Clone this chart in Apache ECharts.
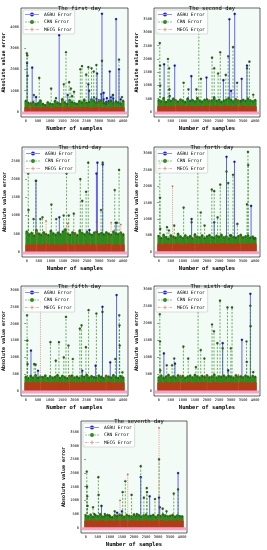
<!DOCTYPE html>
<html>
<head>
<meta charset="utf-8">
<script src="https://cdn.jsdelivr.net/npm/echarts@6/dist/echarts.min.js"></script>
<style>html,body{margin:0;padding:0;background:#fff}#c{width:267px;height:550px}</style>
</head>
<body>
<div id="c"></div>
<script>
// ---------------- data ----------------
const titles = ['The first day','The second day','The third day','The forth day','The fifth day','The sixth day','The seventh day'];
const seriesNames = ['AGRU Error','CRN Error','MECG Error'];
const xTicks = [0,500,1000,1500,2000,2500,3000,3500,4000];
const yTicks1 = [0,1000,2000,3000,4000];
const yTicks2 = [0,500,1000,1500,2000,2500,3000,3500];
const yTicks3 = [0,500,1000,1500,2000,2500];
const yTicks4 = [0,500,1000,1500,2000,2500,3000];
const yTicks5 = [0,500,1000,1500,2000,2500,3000];
const yTicks6 = [0,500,1000,1500,2000,2500,3000];
const yTicks7 = [0,500,1000,1500,2000,2500,3000,3500];

// sample positions of the dense low-level band
const baseX = [0,100,200,300,400,500,600,700,800,900,1000,1100,1200,1300,1400,1500,1600,1700,1800,1900,2000,2100,2200,2300,2400,2500,2600,2700,2800,2900,3000,3100,3200,3300,3400,3500,3600,3700,3800,3900,4000];

// Day 1
const agru1 = [[50,2300],[260,2080],[420,700],[560,450],[1370,3600],[1720,800],[2570,1300],[2600,1000],[2930,1800],[3130,4600],[3200,900],[3330,650],[3450,1900],[3580,800],[3710,4350],[3830,2000],[3900,600]];
const crn1 = [[40,2750],[60,2650],[70,1700],[330,800],[550,1600],[1040,1100],[1240,650],[1560,1300],[1650,2800],[1780,1400],[1850,1100],[1900,750],[1980,950],[2240,2000],[2310,2150],[2480,1750],[2570,2100],[2700,2050],[2790,1900],[2900,2200],[3130,2400],[3580,800],[3830,2450],[3950,700]];
const mecg1 = [[200,450],[1500,500],[3000,550]];
const agruBase1 = [400,350,300,420,380,330,300,360,310,280,340,300,320,360,300,420,350,380,400,330,360,310,380,420,460,350,400,520,700,620,560,850,600,480,520,700,640,500,420,380,350];
const crnBase1 = [520,430,390,470,350,410,540,380,330,460,400,370,520,440,390,610,450,380,560,470,420,390,510,450,580,430,470,600,520,440,480,550,430,380,460,520,410,490,450,400,520];
const mecgBase1 = [230,210,190,240,200,220,180,230,210,250,200,190,220,240,210,230,200,250,220,190,230,210,240,200,220,250,210,190,230,220,240,200,210,230,190,220,240,210,200,230,220];

// Day 2
const agru2 = [[220,1800],[450,600],[660,1750],[1200,500],[1350,1350],[1980,1300],[2300,550],[2680,1200],[2930,3500],[3000,800],[3150,3700],[3440,1250],[3660,1750]];
const crn2 = [[40,2600],[50,1750],[60,1000],[380,2000],[430,1650],[440,850],[1030,1100],[1230,850],[1560,850],[1660,3050],[1750,1250],[2210,2050],[2300,1650],[2460,1450],[2550,2250],[2780,1400],[2880,2100],[3080,2450],[3250,1100],[3660,1650],[3760,1900],[3920,650]];
const mecg2 = [[700,420],[2100,450],[3300,430]];
const agruBase2 = [380,320,300,350,420,310,290,400,330,300,350,320,300,360,310,330,300,350,320,380,310,300,340,360,300,330,350,300,420,380,400,350,330,300,420,360,330,300,350,310,300];
const crnBase2 = [450,400,520,380,460,420,500,440,390,470,430,380,480,420,450,400,520,430,390,460,480,410,440,500,420,460,380,430,470,520,450,400,480,430,390,460,420,500,440,400,450];
const mecgBase2 = [220,200,240,210,190,230,220,200,250,210,230,200,220,240,210,190,230,220,200,240,210,230,200,220,250,210,200,230,220,240,200,210,230,190,220,240,210,200,230,220,210];

// Day 3
const agru3 = [[380,1950],[1350,950],[2600,600],[2890,2150],[2930,2450],[3150,2400],[3700,800]];
const crn3 = [[60,2150],[70,1150],[280,900],[380,1950],[560,900],[650,950],[1020,1300],[1220,900],[1530,1000],[1650,2150],[1740,1000],[1950,1050],[2220,2000],[2300,1400],[2460,1650],[2550,2450],[3080,1150],[3150,2450],[3650,1700],[3740,800],[3830,2250]];
const mecg3 = [[400,550],[800,850],[1700,780],[2000,520],[2900,820],[3500,800],[3900,750]];
const agruBase3 = [350,300,420,330,380,300,350,320,400,310,360,300,330,380,300,350,320,400,330,360,300,340,380,320,300,360,330,400,350,300,380,330,360,320,300,350,400,330,360,300,340];
const crnBase3 = [560,480,520,450,600,500,470,540,490,460,580,510,470,530,480,560,620,500,470,540,510,460,590,520,480,550,500,470,530,560,490,520,480,540,500,470,560,510,490,530,480];
const mecgBase3 = [200,180,210,190,220,200,180,210,230,190,200,220,180,210,200,190,220,200,210,180,200,220,190,210,200,230,190,210,200,180,220,200,190,210,220,200,180,210,200,190,210];

// Day 4
const agru4 = [[600,400],[1360,1000],[2300,900],[2810,2900],[2960,500],[3140,2750],[3830,1400]];
const crn4 = [[40,2700],[50,1650],[60,700],[340,750],[420,650],[640,800],[1030,1350],[1360,900],[1620,2700],[1740,1200],[1900,800],[2200,1900],[2300,1850],[2440,1050],[2550,2050],[2810,2450],[2880,2100],[3080,2350],[3260,850],[3660,1450],[3700,3050],[3710,2650],[3960,400]];
const mecg4 = [[570,2000],[1500,450],[3400,420]];
const agruBase4 = [320,280,350,300,400,330,300,350,290,320,380,300,330,350,300,280,340,310,360,300,330,350,300,320,380,300,340,310,300,350,330,300,360,320,300,340,310,350,300,320,300];
const crnBase4 = [480,420,520,450,390,500,460,430,550,470,420,500,440,480,410,530,460,440,500,420,470,510,450,430,490,460,520,440,470,410,500,450,430,480,520,440,470,500,430,460,420];
const mecgBase4 = [250,230,240,260,220,250,240,230,260,240,220,250,230,260,240,250,220,240,260,230,250,240,220,260,240,230,250,260,230,240,250,220,240,260,230,250,240,230,260,240,250];

// Day 5
const agru5 = [[210,1200],[500,600],[2320,600],[2870,750],[3150,2500],[3470,850],[3730,2850]];
const crn5 = [[50,2250],[60,1500],[70,800],[340,800],[400,780],[1010,1450],[1230,900],[1360,1450],[1560,1000],[1650,2200],[1750,1350],[1930,950],[2220,1850],[2290,1950],[2470,1300],[2580,2400],[2900,2300],[3150,2350],[3680,950],[3840,2250],[3850,1950],[3860,1350],[3970,550]];
const mecg5 = [[600,2650],[1800,420],[3300,450]];
const agruBase5 = [300,280,320,350,300,330,290,310,350,300,320,280,340,300,310,330,290,350,300,320,310,280,330,350,300,320,290,310,340,300,330,310,290,350,320,300,330,310,300,290,320];
const crnBase5 = [420,380,450,400,470,390,430,410,460,380,440,400,420,470,390,450,410,380,440,460,400,430,390,450,420,480,400,440,410,390,460,420,380,450,430,400,470,410,390,440,400];
const mecgBase5 = [250,260,240,270,250,260,240,250,270,250,240,260,250,270,240,260,250,240,260,270,250,240,260,250,270,240,260,250,240,270,250,260,240,250,270,260,240,250,260,240,250];

// Day 6
const agru6 = [[210,1100],[670,800],[1200,400],[2650,1400],[2880,600],[3450,1500],[3800,2850]];
const crn6 = [[40,2250],[50,1450],[60,600],[330,750],[550,750],[640,950],[1020,1300],[1220,950],[1540,700],[1630,2450],[1740,1200],[1890,950],[2210,1950],[2290,1750],[2430,1400],[2540,2650],[2650,1250],[2850,2450],[2990,1250],[3040,2450],[3640,1450],[3650,850],[3800,2500],[3810,1900],[3920,550]];
const mecg6 = [[900,450],[2000,430],[3300,460]];
const agruBase6 = [300,330,280,310,350,300,290,320,300,340,310,280,330,300,320,350,300,290,330,310,300,340,320,290,310,350,300,330,310,290,320,300,340,310,300,330,290,320,310,300,320];
const crnBase6 = [400,450,380,420,470,400,430,390,460,410,440,380,420,450,400,470,430,390,440,410,460,400,420,480,390,430,410,450,400,440,420,390,460,410,430,400,450,420,390,440,410];
const mecgBase6 = [240,250,230,260,240,250,230,240,260,250,230,240,250,260,230,240,250,230,260,240,250,230,240,260,250,240,230,250,240,260,230,250,240,230,260,250,240,230,250,240,250];

// Day 7
const agru7 = [[650,800],[1300,550],[1500,600],[2280,1850],[2650,1150],[3040,1100],[3070,750],[3830,2000]];
const crn7 = [[40,2050],[50,1500],[60,1150],[70,800],[300,750],[350,500],[520,1850],[530,1200],[790,500],[980,450],[1200,600],[1530,1300],[1640,1700],[1900,1200],[2120,500],[2280,2250],[2410,1100],[2530,1450],[2540,1300],[2870,1050],[3040,2500],[3190,700],[3350,600],[3650,1250],[3830,1400]];
const mecg7 = [[1420,1000],[1740,1950],[3040,3650]];
const agruBase7 = [320,300,350,330,380,300,340,310,360,330,300,350,320,380,340,310,360,330,300,350,320,340,380,310,330,360,300,340,320,350,310,380,330,300,340,360,320,300,350,330,310];
const crnBase7 = [450,420,480,400,460,430,500,410,440,470,420,390,460,430,480,450,400,470,440,420,490,430,460,410,450,480,420,440,470,400,460,430,490,450,420,440,470,410,450,430,420];
const mecgBase7 = [260,240,280,250,270,240,260,280,250,240,270,260,250,280,240,260,270,250,240,280,260,250,270,240,260,280,250,260,240,270,250,280,260,240,250,270,260,240,280,250,260];

const yLimits = [[-230,4870],[-190,3925],[-140,2880],[-160,3200],[-150,3120],[-150,3080],[-190,3900]];
const yTickSets = [yTicks1,yTicks2,yTicks3,yTicks4,yTicks5,yTicks6,yTicks7];
const agruSets = [agru1,agru2,agru3,agru4,agru5,agru6,agru7];
const crnSets = [crn1,crn2,crn3,crn4,crn5,crn6,crn7];
const mecgSets = [mecg1,mecg2,mecg3,mecg4,mecg5,mecg6,mecg7];
const agruBaseSets = [agruBase1,agruBase2,agruBase3,agruBase4,agruBase5,agruBase6,agruBase7];
const crnBaseSets = [crnBase1,crnBase2,crnBase3,crnBase4,crnBase5,crnBase6,crnBase7];
const mecgBaseSets = [mecgBase1,mecgBase2,mecgBase3,mecgBase4,mecgBase5,mecgBase6,mecgBase7];

// ---------------- layout & style ----------------
const FONT = 'DejaVu Sans Mono';
const layout = [
  {left:21, top:8,   width:107, height:109},
  {left:154,top:8,   width:106, height:109},
  {left:22, top:147, width:106, height:110},
  {left:154,top:147, width:106, height:110},
  {left:21, top:286, width:107, height:110},
  {left:154,top:286, width:106, height:110},
  {left:81, top:421, width:106, height:112}
];
const COL = {
  agru:{line:'#2323e6', mark:'#1414a8'},
  crn:{line:'#2f8a20', mark:'#2c5e12', dash:[2,1.5]},
  mecg:{line:'#d86a48', mark:'#c44a24', dash:[0.8,1]},
  agruBase:{line:'#2a6ad0'},
  crnBase:{line:'#2e8a1c', mark:'#2f6a16'},
  mecgBase:{line:'#b23c16'}
};

function stem(color, markColor, lw, dash, r, markType) {
  return function(params, api) {
    const x = api.value(0), y = api.value(1);
    const p0 = api.coord([x, 0]);
    const p1 = api.coord([x, y]);
    const children = [{
      type:'line',
      shape:{x1:p0[0], y1:p0[1], x2:p1[0], y2:p1[1]},
      style:{stroke:color, lineWidth:lw, lineDash:dash || null}
    }];
    if (r > 0) {
      if (markType === 'plus') {
        children.push({type:'line', shape:{x1:p1[0]-r,y1:p1[1],x2:p1[0]+r,y2:p1[1]}, style:{stroke:markColor,lineWidth:0.6}});
        children.push({type:'line', shape:{x1:p1[0],y1:p1[1]-r,x2:p1[0],y2:p1[1]+r}, style:{stroke:markColor,lineWidth:0.6}});
      } else {
        children.push({type:'circle', shape:{cx:p1[0], cy:p1[1], r:r}, style:{fill:markColor, stroke:'#222', lineWidth:0.2}});
      }
    }
    return {type:'group', children};
  };
}
// horizontal stem baseline at y = 0 across the data range
function baseline(color, lw) {
  return function(params, api) {
    if (params.dataIndex !== 0) return null;
    const a = api.coord([baseX[0], 0]);
    const b = api.coord([baseX[baseX.length-1], 0]);
    return {type:'line', shape:{x1:a[0]-4, y1:a[1]+1, x2:b[0]+4, y2:b[1]+1}, style:{stroke:color, lineWidth:lw}};
  };
}

const iconSolid = 'path://M0,3.5L28,3.5L28,4.5L0,4.5ZM10,4A4,4 0 1,0 18,4A4,4 0 1,0 10,4Z';
const iconDash = 'path://M0,3.5L4,3.5L4,4.5L0,4.5ZM6,3.5L10,3.5L10,4.5L6,4.5ZM18,3.5L22,3.5L22,4.5L18,4.5ZM24,3.5L28,3.5L28,4.5L24,4.5ZM10,4A4,4 0 1,0 18,4A4,4 0 1,0 10,4Z';
const iconDot = 'path://M0,3.5L5,3.5L5,4.5L0,4.5ZM7,3.5L8,3.5L8,4.5L7,4.5ZM20,3.5L21,3.5L21,4.5L20,4.5ZM23,3.5L28,3.5L28,4.5L23,4.5ZM13.4,0L14.6,0L14.6,3.4L18,3.4L18,4.6L14.6,4.6L14.6,8L13.4,8L13.4,4.6L10,4.6L10,3.4L13.4,3.4Z';

const grids=[], xAxes=[], yAxes=[], series=[], titleArr=[], legends=[];
const plain = v => String(v);
layout.forEach((g, i) => {
  grids.push({left:g.left, top:g.top, width:g.width, height:g.height, show:true, borderColor:'#000', borderWidth:0.6, backgroundColor:'#f3fbf7'});
  xAxes.push({type:'value', gridIndex:i, min:-200, max:4200,
    name:'Number of samples', nameLocation:'middle', nameGap:9,
    nameTextStyle:{fontFamily:FONT, fontSize:5.5, color:'#000', fontWeight:'bold'},
    axisLine:{show:false}, splitLine:{show:false},
    axisTick:{show:true, length:1.5, customValues:xTicks, lineStyle:{color:'#000', width:0.5}},
    axisLabel:{customValues:xTicks, formatter:plain, fontFamily:FONT, fontSize:3.6, color:'#000', margin:2}
  });
  const lim = yLimits[i];
  yAxes.push({type:'value', gridIndex:i, min:lim[0], max:lim[1],
    name:'Absolute value error', nameLocation:'middle', nameGap:14, nameRotate:90,
    nameTextStyle:{fontFamily:FONT, fontSize:5, color:'#000', fontWeight:'bold'},
    axisLine:{show:false}, splitLine:{show:false},
    axisTick:{show:true, length:1.5, customValues:yTickSets[i], lineStyle:{color:'#000', width:0.5}},
    axisLabel:{customValues:yTickSets[i], formatter:plain, fontFamily:FONT, fontSize:3.6, color:'#000', margin:2}
  });
  titleArr.push({text:titles[i], left:g.left + g.width/2, top:g.top - 7, textAlign:'center',
    textStyle:{fontFamily:FONT, fontSize:5.5, fontWeight:'normal', color:'#000'}});
  legends.push({
    left:g.left + 2, top:g.top + 2, orient:'vertical', itemGap:2.5, itemWidth:14, itemHeight:4,
    padding:[2,3,2,2], borderColor:'#bbb', borderWidth:0.5, borderRadius:1, backgroundColor:'rgba(255,255,255,0.8)',
    textStyle:{fontFamily:FONT, fontSize:4.6, color:'#000', padding:[0,0,0,0]},
    selectedMode:false,
    data:[{name:'AGRU Error', icon:iconSolid},{name:'CRN Error', icon:iconDash},{name:'MECG Error', icon:iconDot}]
  });
  const mk = (arr) => baseX.map((x, k) => [x, arr[k]]);
  const common = {type:'custom', xAxisIndex:i, yAxisIndex:i, silent:true, animation:false, clip:true};
  series.push(Object.assign({}, common, {name:'AGRU Error', itemStyle:{color:COL.agru.line}, data:mk(agruBaseSets[i]), renderItem:stem(COL.agruBase.line, COL.agru.mark, 1.2, null, 0.9)}));
  series.push(Object.assign({}, common, {name:'AGRU Error', itemStyle:{color:COL.agru.line}, data:agruSets[i], renderItem:stem(COL.agru.line, COL.agru.mark, 0.7, null, 1.1)}));
  series.push(Object.assign({}, common, {name:'CRN Error', itemStyle:{color:COL.crn.line}, data:mk(crnBaseSets[i]), renderItem:stem(COL.crnBase.line, COL.crnBase.mark, 2.8, null, 1.1)}));
  series.push(Object.assign({}, common, {name:'CRN Error', itemStyle:{color:COL.crn.line}, data:crnSets[i], renderItem:stem(COL.crn.line, COL.crn.mark, 0.7, COL.crn.dash, 1.1)}));
  series.push(Object.assign({}, common, {name:'MECG Error', itemStyle:{color:COL.mecg.line}, data:mk(mecgBaseSets[i]), renderItem:stem(COL.mecgBase.line, COL.mecg.mark, 3, null, 0)}));
  series.push(Object.assign({}, common, {name:'MECG Error', itemStyle:{color:COL.mecg.line}, data:mecgSets[i], renderItem:stem(COL.mecg.line, COL.mecg.mark, 0.7, COL.mecg.dash, 1, 'plus')}));
  series.push(Object.assign({}, common, {name:'MECG Error', itemStyle:{color:COL.mecg.line}, data:mk(mecgBaseSets[i]), renderItem:baseline('#ff9ec6', 3), z:5}));
});

const chart = echarts.init(document.getElementById('c'), null, {renderer:'canvas'});
chart.setOption({
  animation:false,
  backgroundColor:'#fff',
  title:titleArr, legend:legends, grid:grids, xAxis:xAxes, yAxis:yAxes, series
});
</script>
</body>
</html>
